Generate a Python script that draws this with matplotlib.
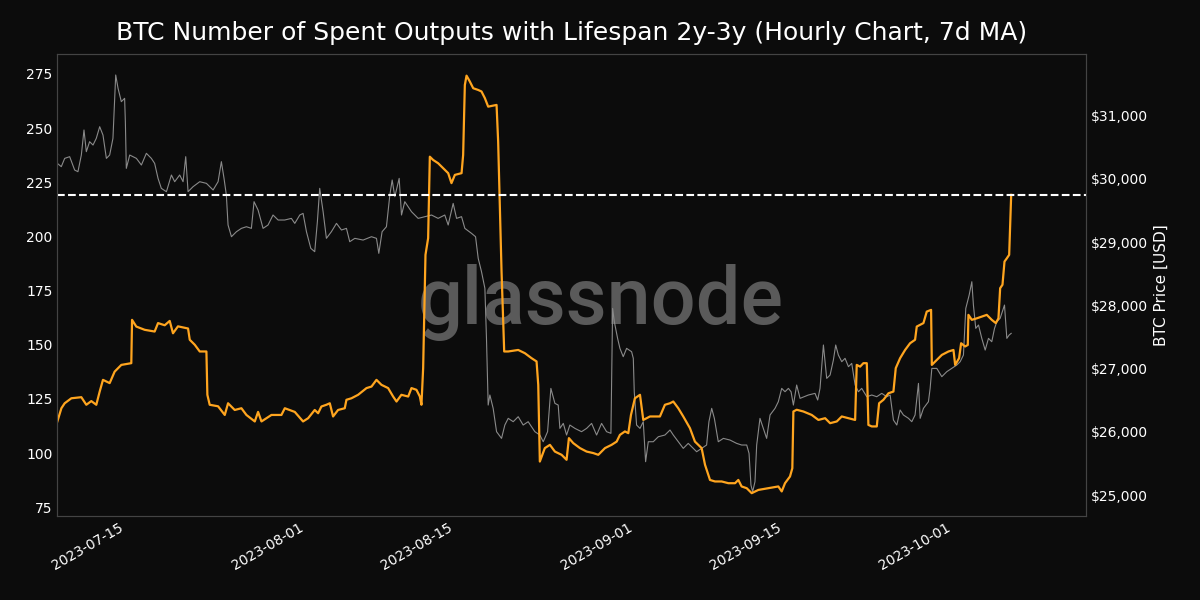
import numpy as np
import pandas as pd
import matplotlib
matplotlib.use("Agg")
import matplotlib.pyplot as plt
import matplotlib.ticker as mticker

# time axis: days since 2023-07-15
base_date = pd.Timestamp("2023-07-15")

##### Spent outputs 2y-3y (7d MA) #####
outputs_days = [
    -6.44, -6.06, -5.75, -5.12, -4.18, -3.71, -3.24, -2.77, -2.45, -2.14,
    -1.51, -1.04, -0.41, 0.53, 0.60, 1.00, 1.79, 2.73, 3.05, 3.68,
    4.15, 4.46, 4.93, 5.88, 6.04, 6.51, 6.98, 7.61, 7.70, 7.92,
    8.71, 9.34, 9.65, 10.28, 10.91, 11.38, 12.17, 12.48, 12.80, 13.74,
    14.68, 15.00, 15.94, 16.72, 17.20, 17.82, 18.14, 18.45, 18.92, 19.24,
    19.55, 20.02, 20.65, 20.81, 21.28, 21.91, 22.70, 23.17, 23.64, 24.11,
    24.74, 25.21, 25.53, 25.99, 26.63, 26.94, 27.41, 27.73, 27.88, 28.04,
    28.26, 28.51, 28.67, 28.98, 29.45, 29.93, 30.40, 30.71, 31.03, 31.66,
    31.81, 31.97, 32.13, 32.44, 32.76, 33.23, 33.54, 33.86, 34.17, 34.96,
    35.11, 35.43, 35.68, 36.06, 37.00, 37.63, 38.26, 38.73, 38.89, 39.04,
    39.51, 39.99, 40.46, 41.09, 41.56, 41.78, 42.19, 42.82, 43.45, 44.08,
    44.55, 45.18, 45.80, 46.28, 46.59, 47.06, 47.38, 47.63, 48.00, 48.48,
    48.79, 49.42, 50.36, 50.83, 51.31, 51.62, 52.09, 52.56, 53.19, 53.66,
    54.29, 54.61, 55.08, 55.55, 56.18, 56.81, 57.44, 57.75, 58.06, 58.54,
    59.01, 59.64, 60.58, 61.52, 61.84, 62.15, 62.62, 62.84, 62.94, 63.25,
    63.88, 64.67, 65.30, 65.93, 66.40, 67.03, 67.50, 68.13, 68.76, 68.91,
    69.23, 69.54, 69.86, 70.01, 70.33, 70.80, 71.02, 71.43, 71.90, 72.37,
    72.59, 73.00, 73.47, 73.94, 74.41, 74.57, 75.20, 75.51, 75.92, 75.99,
    76.46, 76.93, 77.56, 78.03, 78.19, 78.56, 78.75, 79.13, 79.38, 79.44,
    79.76, 80.23, 80.70, 81.17, 81.64, 82.02, 82.27, 82.43, 82.65, 82.84,
    83.06, 83.28, 83.47,
]
outputs_vals = [
    114.6, 120.7, 123.0, 125.3, 125.8, 122.3, 124.0, 122.3, 128.4, 133.8,
    132.3, 137.6, 140.7, 141.5, 161.5, 158.4, 156.9, 156.1, 160.0, 159.0,
    161.0, 155.3, 158.5, 157.5, 152.3, 150.0, 146.9, 146.9, 126.9, 122.3,
    121.6, 117.6, 123.0, 119.9, 120.7, 117.6, 114.6, 119.0, 114.6, 117.6,
    117.6, 120.7, 119.0, 114.6, 116.1, 119.9, 118.4, 121.5, 122.3, 123.0,
    116.9, 119.9, 120.7, 124.6, 125.3, 126.9, 130.0, 130.7, 133.8, 131.5,
    130.0, 126.1, 123.8, 126.9, 126.1, 130.0, 129.2, 126.1, 122.3, 139.2,
    191.5, 199.2, 236.8, 235.3, 233.8, 231.5, 229.2, 224.6, 228.4, 229.2,
    237.6, 269.9, 274.2, 271.5, 268.4, 267.6, 266.9, 263.8, 259.9, 260.7,
    243.8, 183.8, 146.9, 146.9, 147.6, 146.1, 143.8, 142.3, 131.5, 96.1,
    102.3, 103.8, 100.7, 99.2, 96.9, 106.9, 104.6, 102.3, 100.7, 100.0,
    99.2, 102.3, 103.8, 105.3, 108.4, 110.0, 109.2, 117.6, 125.3, 126.9,
    115.3, 116.9, 116.9, 122.3, 123.0, 123.8, 120.7, 116.9, 111.5, 105.3,
    102.3, 94.6, 87.6, 86.9, 86.9, 86.1, 86.1, 87.6, 84.6, 83.8,
    81.5, 83.0, 83.8, 84.6, 82.3, 86.1, 89.2, 93.0, 119.2, 120.0,
    119.2, 117.6, 115.3, 116.1, 113.8, 114.6, 116.9, 116.1, 115.3, 140.7,
    139.9, 141.5, 141.5, 113.0, 112.3, 112.3, 123.0, 124.6, 127.6, 128.4,
    139.2, 143.8, 147.6, 150.7, 152.3, 158.4, 160.0, 165.3, 166.1, 140.7,
    143.0, 145.3, 146.9, 147.6, 140.7, 143.8, 150.7, 149.2, 149.9, 163.8,
    161.5, 162.2, 163.0, 163.8, 161.5, 160.0, 162.2, 176.1, 177.7, 188.4,
    189.9, 191.5, 219.2,
]

##### BTC price [USD] #####
price_days = [
    -6.44, -6.07, -5.75, -5.28, -4.81, -4.50, -4.18, -3.93, -3.71, -3.40,
    -3.08, -2.77, -2.45, -2.14, -1.82, -1.51, -1.20, -0.94, -0.72, -0.41,
    -0.10, -0.03, 0.06, 0.38, 1.01, 1.48, 1.95, 2.42, 2.73, 3.05,
    3.36, 3.84, 4.31, 4.62, 5.09, 5.41, 5.66, 5.88, 6.35, 6.98,
    7.61, 8.24, 8.71, 9.02, 9.27, 9.49, 9.65, 9.97, 10.44, 10.91,
    11.38, 11.85, 12.10, 12.48, 12.95, 13.42, 13.89, 14.37, 14.99, 15.62,
    15.94, 16.41, 16.72, 17.04, 17.45, 17.82, 18.07, 18.29, 18.61, 18.92,
    19.39, 19.87, 20.34, 20.81, 21.12, 21.60, 22.38, 23.17, 23.64, 23.86,
    24.17, 24.58, 24.90, 25.12, 25.37, 25.78, 26.00, 26.31, 26.94, 27.57,
    28.20, 28.83, 29.45, 30.08, 30.40, 30.87, 31.19, 31.66, 31.97, 32.60,
    32.98, 33.23, 33.54, 33.86, 34.01, 34.17, 34.33, 34.64, 34.96, 35.43,
    35.74, 36.06, 36.53, 37.00, 37.47, 37.94, 38.57, 39.04, 39.36, 39.77,
    40.08, 40.46, 40.77, 40.93, 41.25, 41.56, 41.87, 42.35, 42.97, 43.45,
    43.92, 44.39, 44.86, 45.33, 45.74, 45.90, 46.06, 46.37, 46.59, 46.90,
    47.22, 47.69, 47.85, 47.94, 48.16, 48.48, 48.79, 49.01, 49.26, 49.73,
    50.21, 50.83, 51.31, 51.62, 52.09, 52.56, 53.03, 53.51, 53.82, 54.29,
    54.76, 54.98, 55.24, 55.49, 55.86, 56.34, 56.96, 57.59, 58.06, 58.54,
    58.76, 58.94, 59.10, 59.32, 59.48, 59.79, 60.11, 60.42, 60.74, 61.21,
    61.52, 61.84, 62.15, 62.47, 62.72, 62.94, 63.25, 63.57, 64.35, 64.98,
    65.23, 65.45, 65.77, 66.08, 66.40, 66.71, 66.93, 67.18, 67.50, 67.81,
    68.13, 68.44, 68.76, 69.07, 69.38, 69.86, 70.33, 70.80, 71.27, 71.74,
    72.06, 72.37, 72.69, 73.00, 73.31, 73.79, 74.10, 74.41, 74.73, 74.89,
    75.20, 75.67, 75.83, 75.99, 76.46, 76.93, 77.40, 77.87, 78.34, 78.66,
    78.97, 79.19, 79.51, 79.76, 79.91, 80.13, 80.39, 80.70, 81.02, 81.33,
    81.64, 81.90, 82.12, 82.43, 82.84, 83.06, 83.28, 83.47,
]
price_vals = [
    30246, 30194, 30325, 30352, 30141, 30114, 30378, 30774, 30431, 30589,
    30536, 30642, 30826, 30694, 30325, 30378, 30642, 31644, 31433, 31222,
    31275, 30905, 30167, 30378, 30325, 30220, 30405, 30325, 30246, 30009,
    29851, 29798, 30062, 29956, 30062, 29956, 30352, 29798, 29877, 29956,
    29930, 29825, 29956, 30273, 30009, 29745, 29271, 29086, 29165, 29218,
    29244, 29218, 29640, 29508, 29218, 29271, 29429, 29350, 29350, 29376,
    29297, 29429, 29455, 29165, 28902, 28849, 29324, 29851, 29482, 29060,
    29165, 29297, 29192, 29218, 29007, 29060, 29033, 29086, 29060, 28823,
    29165, 29244, 29745, 29983, 29719, 30009, 29429, 29640, 29482, 29376,
    29403, 29429, 29376, 29429, 29271, 29613, 29376, 29403, 29218, 29139,
    29086, 28744, 28533, 28269, 27478, 26423, 26582, 26371, 26002, 25896,
    26107, 26213, 26160, 26239, 26107, 26160, 26002, 25949, 25843, 26002,
    26687, 26450, 26423, 26054, 26133, 25949, 26107, 26054, 26002, 26054,
    26133, 25949, 26133, 26002, 25976, 27952, 27742, 27478, 27320, 27188,
    27320, 27267, 27162, 26634, 26107, 26054, 26160, 25527, 25843, 25843,
    25922, 25949, 26028, 25949, 25843, 25738, 25817, 25738, 25685, 25738,
    25791, 26160, 26371, 26213, 25843, 25896, 25870, 25817, 25791, 25791,
    25659, 25158, 25052, 25211, 25791, 26213, 26054, 25896, 26266, 26371,
    26476, 26687, 26634, 26687, 26634, 26423, 26740, 26529, 26582, 26608,
    26503, 26687, 27373, 26845, 26898, 27135, 27373, 27214, 27109, 27162,
    27030, 27082, 26740, 26634, 26687, 26555, 26582, 26555, 26608, 26555,
    26582, 26186, 26107, 26345, 26266, 26213, 26160, 26266, 26766, 26213,
    26371, 26476, 26687, 27003, 27003, 26872, 26951, 27003, 27056, 27109,
    27214, 27952, 28163, 28374, 28005, 27636, 27689, 27478, 27293, 27478,
    27425, 27636, 27742, 27795, 28005, 27478, 27531, 27557,
]

last_value = 219.2
title = "BTC Number of Spent Outputs with Lifespan 2y-3y (Hourly Chart, 7d MA)"
x_end_days = 90.5

t_out = base_date + pd.to_timedelta(outputs_days, unit="D")
t_price = base_date + pd.to_timedelta(price_days, unit="D")

bg = "#0c0c0c"
fig = plt.figure(figsize=(12, 6), dpi=100, facecolor=bg)
ax = fig.add_axes([0.0478, 0.1405, 0.857, 0.7695])
ax2 = ax.twinx()

# price behind, metric on top
ax.set_zorder(ax2.get_zorder() + 1)
ax.patch.set_visible(False)
ax2.set_facecolor(bg)

# watermark sits under both lines
ax2.text(0.528, 0.462, "glassnode", transform=ax2.transAxes, ha="center", va="center",
         fontsize=57, color="#5a5a5a", family="Roboto", fontweight="medium", zorder=0)

ax2.plot(t_price, price_vals, color="#8a8a8a", lw=0.8, zorder=2)
ax.plot(t_out, outputs_vals, color="#ffa51f", lw=1.6)
ax.axhline(last_value, color="white", ls="--", lw=1.5)

ax.set_xlim(t_out[0], base_date + pd.Timedelta(days=x_end_days))
ax.set_ylim(71.1, 284.2)
ax2.set_ylim(24673, 31976)

ax.set_yticks([75, 100, 125, 150, 175, 200, 225, 250, 275])
ax2.set_yticks([25000, 26000, 27000, 28000, 29000, 30000, 31000])
ax2.yaxis.set_major_formatter(mticker.StrMethodFormatter("${x:,.0f}"))
ax.set_xticks(pd.to_datetime(["2023-07-15", "2023-08-01", "2023-08-15",
                              "2023-09-01", "2023-09-15", "2023-10-01"]))
ax.xaxis.set_major_formatter(matplotlib.dates.DateFormatter("%Y-%m-%d"))

for a in (ax, ax2):
    a.tick_params(colors="white", labelsize=10, length=0)
    for s in a.spines.values():
        s.set_color("#444444")
plt.setp(ax.get_xticklabels(), rotation=30, ha="right")

ax2.set_ylabel("BTC Price [USD]", color="white", fontsize=11)
ax.set_title(title, color="white", fontsize=18, pad=10)

fig.savefig("out.png", facecolor=bg)
